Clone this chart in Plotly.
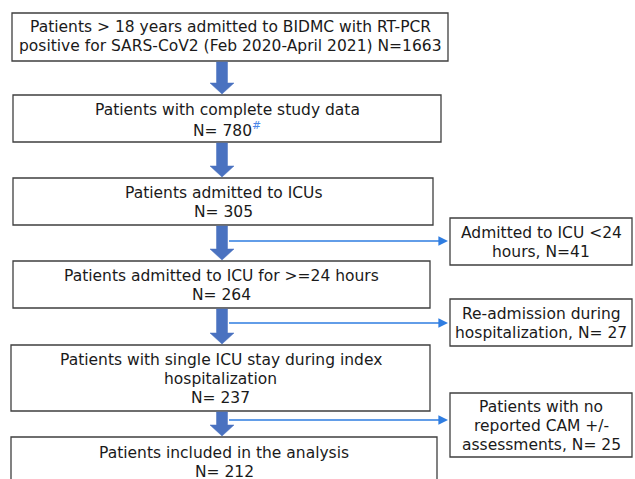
import plotly.graph_objects as go

# ---- data (flowchart content) ----
main_labels = [
    ["Patients > 18 years admitted to BIDMC with RT-PCR",
     "positive for SARS-CoV2 (Feb 2020-April 2021) N=1663"],
    ["Patients with complete study data",
     "N= 780<sup><span style='color:#4a86e8'>#</span></sup>"],
    ["Patients admitted to ICUs", "N= 305"],
    ["Patients admitted to ICU for >=24 hours", "N= 264"],
    ["Patients with single ICU stay during index", "hospitalization", "N= 237"],
    ["Patients included in the analysis", "N= 212"],
]
main_counts = [1663, 780, 305, 264, 237, 212]
excluded_labels = [
    ["Admitted to ICU <24", "hours, N=41"],
    ["Re-admission during", "hospitalization, N= 27"],
    ["Patients with no", "reported CAM +/-", "assessments, N= 25"],
]
excluded_counts = [41, 27, 25]

# ---- layout geometry (page pixels, y downward) ----
main_boxes = [
    (12, 448, 13, 61),
    (13, 441, 95, 142),
    (13, 433, 178, 225),
    (13, 430, 261, 308),
    (11, 430, 345, 411),
    (11, 437, 437, 495),
]
main_text_y0 = [27, 110, 193, 276, 360, 453]
side_boxes = [
    (450, 632, 218, 265),
    (450, 632, 299, 346),
    (450, 632, 393, 457),
]
side_text_y0 = [233, 314, 407]
side_line_y = [241, 323, 420]
arrow_x = 222
LINE_STEP = 19

W, H = 635, 479
BOX_COL = "#3f3f3f"
ARROW_COL = "#4a72c0"
LINE_COL = "#2f7de1"
FONT = dict(family="DejaVu Sans, sans-serif", size=15.5, color="#1a1a1a")

fig = go.Figure()
fig.add_trace(go.Scatter(x=[0, W], y=[0, H], mode="markers",
                         marker=dict(opacity=0), hoverinfo="skip", showlegend=False))

shapes = []
annotations = []


def add_box(rect, lines, y0):
    x0, x1, t, b = rect
    shapes.append(dict(type="rect", x0=x0, x1=x1, y0=t, y1=b, xref="x", yref="y",
                       line=dict(color=BOX_COL, width=1.3), fillcolor="white"))
    for k, ln in enumerate(lines):
        annotations.append(dict(x=(x0 + x1) / 2, y=y0 + k * LINE_STEP, text=ln,
                                showarrow=False, font=FONT, xref="x", yref="y",
                                xanchor="center", yanchor="middle"))


for rect, lab, ty in zip(main_boxes, main_labels, main_text_y0):
    add_box(rect, lab, ty)
for rect, lab, ty in zip(side_boxes, excluded_labels, side_text_y0):
    add_box(rect, lab, ty)

# block arrows between main boxes
sw, hw, hh = 5.5, 12, 11
for i in range(len(main_boxes) - 1):
    top = main_boxes[i][3] + 1
    bot = main_boxes[i + 1][2] - 1
    cx = arrow_x
    path = (f"M {cx - sw} {top} L {cx + sw} {top} L {cx + sw} {bot - hh} "
            f"L {cx + hw} {bot - hh} L {cx} {bot} L {cx - hw} {bot - hh} "
            f"L {cx - sw} {bot - hh} Z")
    shapes.append(dict(type="path", path=path, xref="x", yref="y",
                       fillcolor=ARROW_COL, line=dict(color=ARROW_COL, width=0.5)))

# thin exclusion arrows
for (x0, x1, y0, y1), ly in zip(side_boxes, side_line_y):
    annotations.append(dict(x=x0 - 2, y=ly, ax=arrow_x + sw, ay=ly, xref="x", yref="y",
                            axref="x", ayref="y", showarrow=True, arrowhead=2,
                            arrowsize=1.2, arrowwidth=1.6, arrowcolor=LINE_COL,
                            text=" ", font=dict(size=1)))

fig.update_layout(
    width=W, height=H, margin=dict(l=0, r=0, t=0, b=0),
    paper_bgcolor="white", plot_bgcolor="white",
    xaxis=dict(range=[0, W], visible=False, fixedrange=True),
    yaxis=dict(range=[H, 0], visible=False, fixedrange=True),
    shapes=shapes, annotations=annotations, showlegend=False,
)
fig.write_html(
    "out.html",
    config={"displayModeBar": False, "staticPlot": True},
    post_script="document.body.style.margin='0';document.body.style.overflow='hidden';"
                "document.documentElement.style.overflow='hidden';",
)
